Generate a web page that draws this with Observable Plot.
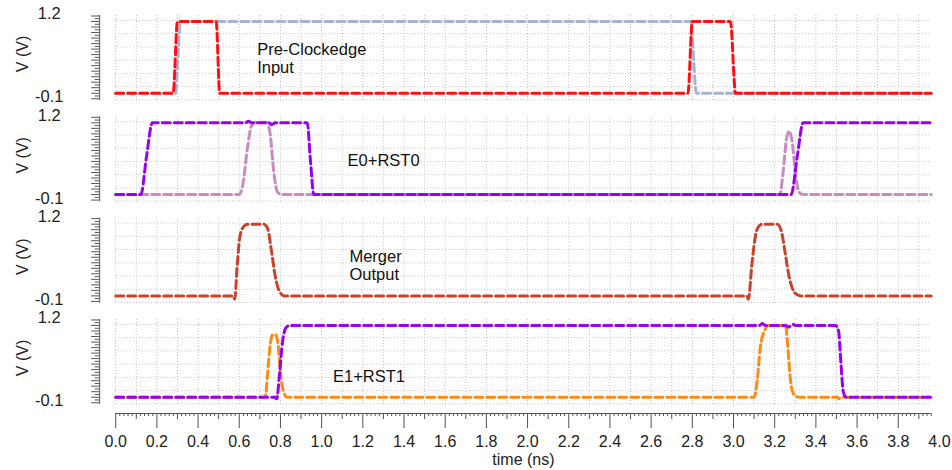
<!DOCTYPE html>
<html><head><meta charset="utf-8">
<script src="https://cdn.jsdelivr.net/npm/d3@7"></script>
<script src="https://cdn.jsdelivr.net/npm/@observablehq/plot@0.6"></script>
<style>
body{margin:0;background:#fff;}
#chart{width:952px;height:470px;}
</style></head><body><div id="chart"></div>
<script>
// ---- data (time in ns, voltage in V) ----
const panels = ["Pre-Clockedge Input", "E0+RST0", "Merger Output", "E1+RST1"];

const inputTime = [0, 0.29, 0.315, 2.792, 2.82, 3.96];
const inputVolt = [-0.1, -0.1, 1.2, 1.2, -0.1, -0.1];

const preTime = [0, 0.279, 0.30, 0.488, 0.505, 2.779, 2.80, 2.985, 3.01, 3.96];
const preVolt = [-0.1, -0.1, 1.2, 1.2, -0.1, -0.1, 1.2, 1.2, -0.1, -0.1];

const rst0Time = [0, 0.60, 0.618, 0.64, 0.66, 0.68, 0.735, 0.75, 0.768, 0.785, 0.805, 3.225, 3.242, 3.257, 3.27, 3.285, 3.302, 3.318, 3.338, 3.96];
const rst0Volt = [-0.1, -0.1, 0.1, 0.75, 1.15, 1.21, 1.21, 1.0, 0.3, -0.05, -0.1, -0.1, 0.35, 0.9, 1.05, 0.85, 0.25, -0.05, -0.1, -0.1];

const e0Time = [0, 0.122, 0.15, 0.178, 0.63, 0.645, 0.66, 0.745, 0.757, 0.775, 0.93, 0.946, 0.962, 3.28, 3.31, 3.338, 3.96];
const e0Volt = [-0.1, -0.1, 0.6, 1.2, 1.2, 1.23, 1.2, 1.2, 1.17, 1.2, 1.2, 0.5, -0.1, -0.1, 0.6, 1.2, 1.2];

const mergerTime = [0, 0.57, 0.578, 0.59, 0.602, 0.618, 0.64, 0.72, 0.738, 0.755, 0.775, 0.795, 0.82, 3.065, 3.072, 3.09, 3.11, 3.125, 3.14, 3.213, 3.232, 3.25, 3.27, 3.29, 3.31, 3.33, 3.96];
const mergerVolt = [-0.1, -0.1, -0.16, 0.45, 0.95, 1.14, 1.2, 1.2, 1.12, 0.75, 0.25, -0.02, -0.1, -0.1, -0.16, 0.5, 1.05, 1.17, 1.2, 1.2, 1.08, 0.7, 0.25, 0.0, -0.08, -0.1, -0.1];

const rst1Time = [0, 0.726, 0.737, 0.75, 0.762, 0.775, 0.787, 0.80, 0.815, 0.832, 3.10, 3.115, 3.13, 3.15, 3.17, 3.252, 3.262, 3.272, 3.283, 3.30, 3.32, 3.505, 3.512, 3.52, 3.96];
const rst1Volt = [-0.1, -0.1, 0.3, 0.85, 1.03, 1.04, 0.9, 0.35, 0.0, -0.1, -0.1, 0.2, 0.8, 1.1, 1.2, 1.2, 0.9, 0.4, 0.05, -0.08, -0.1, -0.1, -0.13, -0.1, -0.1];

const e1Time = [0, 0.77, 0.782, 0.795, 0.81, 0.825, 0.845, 3.125, 3.14, 3.155, 3.255, 3.267, 3.28, 3.29, 3.30, 3.495, 3.51, 3.522, 3.533, 3.548, 3.96];
const e1Volt = [-0.1, -0.1, -0.13, 0.3, 0.9, 1.15, 1.2, 1.2, 1.235, 1.2, 1.2, 1.17, 1.2, 1.22, 1.2, 1.2, 1.1, 0.5, 0.0, -0.1, -0.1];

const annotationLabels = ["Pre-Clockedge\nInput", "E0+RST0", "Merger\nOutput", "E1+RST1"];
const annotationTime = [0.687, 1.126, 1.135, 1.055];
const annotationVolt = [0.53, 0.52, 0.46, 0.275];

const xTickLabels = ["0.0","0.2","0.4","0.6","0.8","1.0","1.2","1.4","1.6","1.8","2.0","2.2","2.4","2.6","2.8","3.0","3.2","3.4","3.6","3.8","4.0"];
const yTickLabels = ["-0.1", "1.2"];
const yGridValues = [-0.22, 0.02, 0.26, 0.5, 0.74, 0.98, 1.22];

// ---- build ----
const series = [
  {name: "Input", panel: 0, t: inputTime, v: inputVolt},
  {name: "Pre-Clockedge", panel: 0, t: preTime, v: preVolt},
  {name: "RST0", panel: 1, t: rst0Time, v: rst0Volt},
  {name: "E0", panel: 1, t: e0Time, v: e0Volt},
  {name: "Merger", panel: 2, t: mergerTime, v: mergerVolt},
  {name: "RST1", panel: 3, t: rst1Time, v: rst1Volt},
  {name: "E1", panel: 3, t: e1Time, v: e1Volt}
];
const colors = {"Input": "#a6b2cf", "Pre-Clockedge": "#ff1010", "RST0": "#c98cbf", "E0": "#9a00f0", "Merger": "#c8422c", "RST1": "#ff8a14", "E1": "#9a00f0"};

const rowsOf = s => s.t.map((t, i) => ({t, v: s.v[i], panel: panels[s.panel]}));
const annotations = annotationLabels.map((label, i) => ({label, t: annotationTime[i], v: annotationVolt[i], panel: panels[i]}));

const xDomain = [0, 3.96];
const yDomain = [-0.232, 1.309];
const xMajor = xTickLabels.map(Number);
const xMajorIn = xMajor.filter(d => d <= xDomain[1]);
const xMid = d3.range(0.1, 3.96, 0.2).map(d => +d.toFixed(2));
const xMinor = d3.range(0, 3.961, 0.02).map(d => +d.toFixed(2)).filter(d => Math.round(d * 100) % 10 !== 0);
const xGrid = d3.range(0, 3.96, 0.1).map(d => +d.toFixed(2));
const yMajor = d3.range(-0.2, 1.31, 0.1).map(d => +d.toFixed(2));
const yMinor = d3.range(-0.15, 1.31, 0.1).map(d => +d.toFixed(2));
const labelOf = new Map(xMajor.map((d, i) => [d, xTickLabels[i]]));
const bottom = panels[3];
const font = "'Liberation Sans', Arial, Helvetica, sans-serif";
const axisGray = "#555";

const chart = Plot.plot({
  width: 952, height: 470,
  marginLeft: 115.2, marginRight: 21.3, marginTop: 15, marginBottom: 66,
  style: {fontFamily: font, background: "#fff", overflow: "visible", color: "#222"},
  x: {domain: xDomain, axis: null},
  y: {domain: yDomain, axis: null},
  fy: {domain: panels, axis: null, paddingInner: 0.161, paddingOuter: 0, round: false, label: null},
  marks: [
    Plot.gridX(xGrid, {stroke: "#c4c4c4", strokeOpacity: 1, strokeDasharray: "1,2"}),
    Plot.gridY(yGridValues, {stroke: "#c4c4c4", strokeOpacity: 1, strokeDasharray: "1,2"}),
    // y axis rail and ticks
    Plot.ruleX([0], {dx: -16, stroke: axisGray}),
    Plot.axisY(yMajor, {anchor: "left", tickSize: 8, dx: -16, tickFormat: () => "", stroke: axisGray, label: null}),
    Plot.axisY(yMinor, {anchor: "left", tickSize: 4.5, dx: -16, tickFormat: () => "", stroke: axisGray, label: null}),
    Plot.text([yTickLabels[1]], {frameAnchor: "top-left", dx: -66.5, dy: -1.5, textAnchor: "middle", lineAnchor: "middle", fontSize: 16.5, fill: "#222"}),
    Plot.text([yTickLabels[0]], {frameAnchor: "bottom-left", dx: -66.5, dy: -3.5, textAnchor: "middle", lineAnchor: "middle", fontSize: 16.5, fill: "#222"}),
    Plot.text(["V (V)"], {frameAnchor: "left", dx: -93, dy: -4, rotate: -90, textAnchor: "middle", lineAnchor: "middle", fontSize: 16, fill: "#222"}),
    // waveforms
    ...series.map(s => Plot.line(rowsOf(s), {x: "t", y: "v", fy: "panel", stroke: colors[s.name], strokeWidth: 3, strokeDasharray: "8,4", curve: "monotone-x"})),
    // annotations
    Plot.text(annotations, {x: "t", y: "v", fy: "panel", text: "label", textAnchor: "start", lineAnchor: "middle", lineHeight: 1.11, fontSize: 16.5, fill: "#111"}),
    // x axis
    Plot.ruleY([{v: yDomain[0], panel: bottom}], {y: "v", fy: "panel", dy: 9, stroke: axisGray}),
    Plot.axisX(xMajorIn, {anchor: "bottom", tickSize: 15, dy: 9, tickFormat: () => "", stroke: axisGray, label: null}),
    Plot.axisX(xMid, {anchor: "bottom", tickSize: 6, dy: 9, tickFormat: () => "", stroke: axisGray, label: null}),
    Plot.axisX(xMinor, {anchor: "bottom", tickSize: 3, dy: 9, tickFormat: () => "", stroke: axisGray, label: null}),
    Plot.axisX(xMajor, {anchor: "bottom", tickSize: 0, tickPadding: 31, tickFormat: d => labelOf.get(d), fontSize: 16, fill: "#222", label: null}),
    Plot.text([{label: "time (ns)", panel: bottom}], {text: "label", fy: "panel", frameAnchor: "bottom", dy: 55.5, textAnchor: "middle", lineAnchor: "middle", fontSize: 16, fill: "#222"})
  ]
});
document.getElementById("chart").appendChild(chart);
</script></body></html>
